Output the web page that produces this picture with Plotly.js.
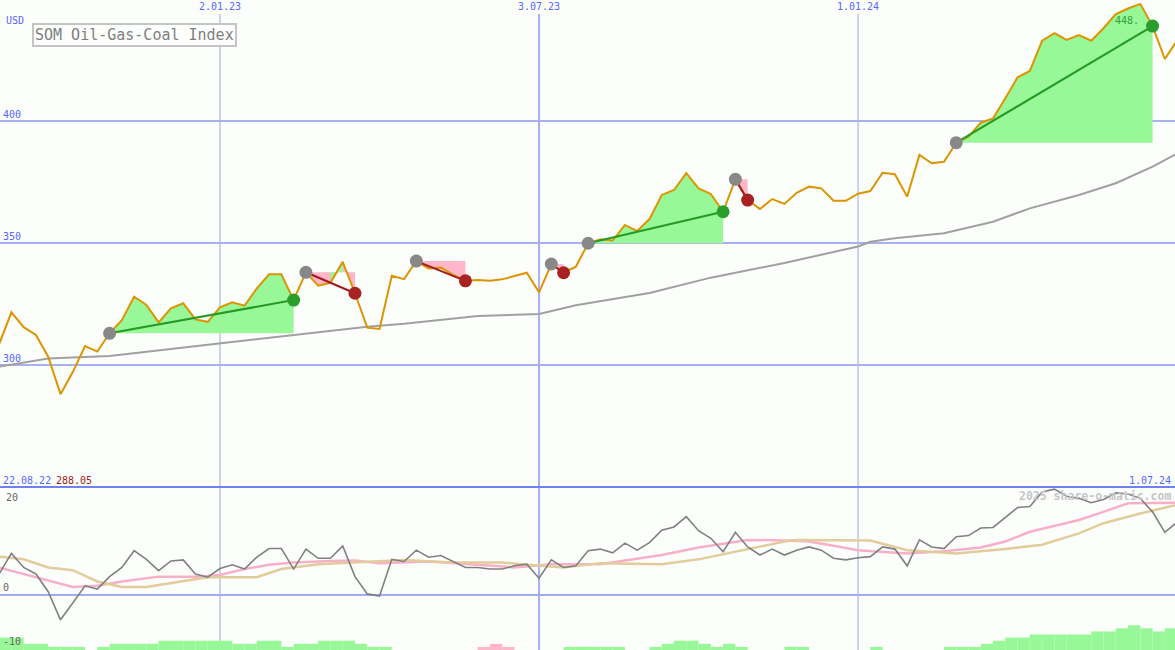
<!DOCTYPE html>
<html><head><meta charset="utf-8">
<script src="https://cdn.plot.ly/plotly-3.0.1.min.js"></script>
<style>html,body{margin:0;padding:0;background:#fcfefc;}#chart{width:1175px;height:650px;}</style>
</head><body><div id="chart"></div><script>
// ---- data (weekly closes from 29.08.22) ----
const firstWeek = [2022, 7, 29];
const price = [308.6,321.6,315.5,312.3,303.4,288.05,297.1,307.8,305.5,313.0,
 318.4,328.0,324.6,317.5,323.2,325.3,318.7,317.7,323.6,325.7,
 324.3,331.4,337.2,337.2,326.6,338.0,332.5,333.7,342.3,329.4,
 315.3,314.8,336.6,335.2,342.6,339.6,339.9,336.9,334.5,334.8,
 334.5,335.1,336.5,337.8,329.8,341.4,337.8,340.3,349.9,351.5,
 351.0,357.4,354.9,359.8,369.7,371.7,378.6,372.4,370.1,362.8,
 376.1,367.6,363.9,368.0,366.0,370.6,373.1,372.4,367.3,367.3,
 370.2,371.3,378.8,378.2,369.0,386.1,382.7,383.3,391.1,393.6,
 399.3,401.1,409.3,417.9,420.5,432.9,436.0,433.2,435.2,432.9,
 438.0,443.8,446.1,448.0,438.9,425.4,433.0];
const maWeeks = [0,4,9,18,24,30,33,39,44,47,53,58,64,70,71,73,77,81,84,88,91,94,96];
const maVals  = [299.3,302.7,303.7,308.9,312.3,315.7,316.9,320.1,320.9,324.5,329.5,335.8,341.8,348.6,350.5,351.9,354.0,358.7,364.2,369.7,374.5,381.3,386.7];
const upTrends = [[9,24],[48,59],[78,94]];
const downTrends = [[25,29],[34,38],[45,46],[60,61]];
const reversalPatches = [[25,27,28]]; // [trend start week, from, to]
const osc = [3.9,7.7,5.1,3.9,0.6,-4.6,-1.5,1.7,1.1,3.4,
 5.1,8.2,6.6,4.5,6.3,6.5,3.9,3.3,4.9,5.6,
 4.8,7.0,8.6,8.6,4.8,8.5,6.8,6.8,9.1,3.4,
 0.2,-0.2,6.6,6.2,8.3,7.0,7.3,6.2,5.1,5.1,
 4.8,4.8,5.4,5.7,3.1,6.5,5.1,5.4,8.2,8.5,
 7.8,9.6,8.3,9.7,12.0,12.6,14.5,11.9,10.5,8.0,
 11.6,8.9,7.4,8.5,7.4,8.3,8.9,8.3,6.8,6.5,
 6.9,7.1,8.9,8.5,5.4,10.2,8.9,8.6,10.8,11.0,
 12.4,12.5,14.3,16.2,16.4,19.1,19.6,18.3,17.9,17.1,
 17.7,18.9,18.7,17.9,15.4,11.6,13.5];
const pinkWeeks = [0,3,5,6,8,10,13,16,18,20,22,24,27,29,31,35,39,42,45,49,51,54,57,60,61,64,66,68,70,74,77,80,82,84,88,90,92,96];
const pinkVals  = [5.1,3.3,2.0,1.5,1.7,2.5,3.4,3.4,3.7,4.8,5.6,6.0,6.3,6.4,5.9,6.2,5.6,5.1,5.7,5.7,6.4,7.4,8.8,9.9,10.2,10.1,9.9,9.1,8.3,7.7,8.1,8.8,9.9,11.7,13.9,15.4,17.0,17.1];
const tanWeeks = [0,2,4,6,8,10,12,15,17,21,23,26,29,33,37,41,43,46,49,54,57,60,61,64,65,71,74,78,82,85,88,90,93,96];
const tanVals  = [7.1,6.6,5.1,4.6,2.5,1.5,1.5,2.5,3.3,3.3,4.8,5.7,6.0,6.5,6.0,6.0,5.6,5.1,5.9,5.7,6.6,8.0,8.6,9.9,10.2,10.1,8.3,7.7,8.5,9.3,11.4,13.3,15.1,16.7];
const greenBars = [4,4,2,2,1,1,1,0,1,2,2,2,2,3,3,3,3,3,3,2,2,3,3,1,2,2,3,3,3,2,1,1,
 0,0,0,0,0,0,0,0,0,0,0,0,0,0,1,1,1,1,1,0,0,1,2,3,3,2,1,2,1,0,0,0,1,1,
 0,0,0,0,0,1,0,0,0,0,0,1,1,1,2,3,4,4,5,5,5,5,5,6,6,7,8,7,6,7,0];
const pinkBars = {39:1, 40:2, 41:1};
const tickDates = ['2023-01-02','2023-07-03','2024-01-01'];
const tickLabels = ['2.01.23','3.07.23','1.01.24'];
const title = 'SOM Oil-Gas-Coal Index';

// ---- helpers ----
function wk(i){const d=new Date(Date.UTC(firstWeek[0],firstWeek[1],firstWeek[2]));d.setUTCDate(d.getUTCDate()+7*i);return d.toISOString().slice(0,10);}
const dates = price.map((_,i)=>wk(i));
const mono = 'DejaVu Sans Mono, monospace';
const BLUE = '#5566ff';
const GREEN_FILL = '#98f898', PINK_FILL = '#ffb6c8';
const traces = [];

traces.push({x:maWeeks.map(wk), y:maVals, mode:'lines', line:{color:'#a0a0a0', width:2}, xaxis:'x', yaxis:'y', hoverinfo:'skip'});

function fillSeg(base, a, b, color){
  const xs = dates.slice(a,b+1);
  traces.push({x:xs, y:xs.map(()=>price[base]), mode:'lines', line:{width:0}, xaxis:'x', yaxis:'y', hoverinfo:'skip'});
  traces.push({x:xs, y:price.slice(a,b+1), mode:'lines', line:{width:0}, fill:'tonexty', fillcolor:color, xaxis:'x', yaxis:'y', hoverinfo:'skip'});
}
upTrends.forEach(([s,e])=>fillSeg(s,s,e,GREEN_FILL));
downTrends.forEach(([s,e])=>fillSeg(s,s,e,PINK_FILL));
reversalPatches.forEach(([b,s,e])=>fillSeg(b,s,e,GREEN_FILL));

traces.push({x:dates, y:price, mode:'lines', line:{color:'#dc9400', width:2}, xaxis:'x', yaxis:'y'});

function trend(list, col, endCol){
  list.forEach(([s,e])=>{
    traces.push({x:[dates[s],dates[e]], y:[price[s],price[e]], mode:'lines', line:{color:col, width:2}, xaxis:'x', yaxis:'y', hoverinfo:'skip'});
  });
  traces.push({x:list.map(t=>dates[t[0]]), y:list.map(t=>price[t[0]]), mode:'markers', marker:{color:'#888888', size:13}, xaxis:'x', yaxis:'y'});
  traces.push({x:list.map(t=>dates[t[1]]), y:list.map(t=>price[t[1]]), mode:'markers', marker:{color:endCol, size:13}, xaxis:'x', yaxis:'y'});
}
trend(upTrends, '#249a24', '#2a9d2a');
trend(downTrends, '#a01a1a', '#a82222');

// bottom panel
const WEEK = 7*86400000;
traces.push({type:'bar', x:dates.slice(0,greenBars.length), y:greenBars, offset:0, width:WEEK, marker:{color:GREEN_FILL, line:{width:0}}, xaxis:'x2', yaxis:'y3', hoverinfo:'skip'});
const pk = Object.keys(pinkBars).map(Number);
traces.push({type:'bar', x:pk.map(i=>dates[i]), y:pk.map(i=>pinkBars[i]), offset:0, width:WEEK, marker:{color:PINK_FILL, line:{width:0}}, xaxis:'x2', yaxis:'y3', hoverinfo:'skip'});
traces.push({x:pinkWeeks.map(wk), y:pinkVals, mode:'lines', line:{color:'#f8b0c8', width:2.5}, xaxis:'x2', yaxis:'y2'});
traces.push({x:tanWeeks.map(wk), y:tanVals, mode:'lines', line:{color:'#e2cc9c', width:2.5}, xaxis:'x2', yaxis:'y2'});
traces.push({x:dates, y:osc, mode:'lines', line:{color:'#808080', width:1.6}, xaxis:'x2', yaxis:'y2'});

const split = 1-487/650;
const xr = ['2022-08-29 11:45','2024-06-29 19:00'];
const layout = {
  width:1175, height:650, margin:{l:0,r:0,t:0,b:0}, showlegend:false,
  paper_bgcolor:'#fcfefc', plot_bgcolor:'rgba(0,0,0,0)', barmode:'overlay', hovermode:false,
  xaxis:{type:'date', range:xr, anchor:'y', side:'top', tickvals:tickDates, ticktext:tickLabels,
    ticklabelposition:'inside', ticks:'', tickfont:{family:mono, size:10, color:BLUE}, showgrid:false, zeroline:false, showline:false},
  xaxis2:{type:'date', range:xr, matches:'x', anchor:'y2', showticklabels:false, showgrid:false, zeroline:false, showline:false, ticks:''},
  yaxis:{domain:[split,1], range:[250,449.59], tickvals:[300,350,400], ticklabelposition:'inside top', ticks:'',
    tickfont:{family:mono, size:10, color:BLUE}, showgrid:true, gridcolor:'#a8b0f0', gridwidth:2, zeroline:false, showline:false},
  yaxis2:{domain:[0,split], range:[-10.19,20], tickvals:[0,-10], ticktext:['0','-10'], ticklabelposition:'inside top', ticks:'',
    tickfont:{family:mono, size:10, color:'#666666'}, showgrid:false, zeroline:false, showline:false},
  yaxis3:{overlaying:'y2', range:[0,52.6], visible:false},
  shapes:[
    ...tickDates.map((d,k)=>({type:'line', layer:'below', xref:'x', yref:'paper', x0:d, x1:d, y0:0, y1:1-14/650,
      line:{color:k===1?'#a4b0f4':'#b6badf', width:k===1?2:1.3}})),
    {type:'line', layer:'below', xref:'paper', yref:'y2', x0:0, x1:1, y0:0, y1:0, line:{color:'#a0acf0', width:2}},
    {type:'line', layer:'above', xref:'paper', yref:'paper', x0:0, x1:1, y0:split, y1:split, line:{color:'#7080f0', width:2}}
  ],
  annotations:[
    {text:title, xref:'paper', yref:'paper', x:32/1175, y:1-23/650, xanchor:'left', yanchor:'top', showarrow:false,
      font:{family:mono, size:15, color:'#808080'}, bordercolor:'#c4c4c4', borderwidth:2, borderpad:1, bgcolor:'#fcfefc'},
    {text:'USD', xref:'paper', yref:'paper', x:4/1175, y:1-21/650, xanchor:'left', yanchor:'middle', showarrow:false, font:{family:mono, size:10, color:BLUE}},
    {text:'20', xref:'paper', yref:'paper', x:4/1175, y:1-497/650, xanchor:'left', yanchor:'middle', showarrow:false, font:{family:mono, size:10, color:'#666666'}},
    {text:'22.08.22', xref:'paper', yref:'paper', x:1/1175, y:1-480/650, xanchor:'left', yanchor:'middle', showarrow:false, font:{family:mono, size:10, color:BLUE}},
    {text:Math.min(...price).toFixed(2), xref:'paper', yref:'paper', x:54/1175, y:1-480/650, xanchor:'left', yanchor:'middle', showarrow:false, font:{family:mono, size:10, color:'#a01818'}},
    {text:'1.07.24', xref:'paper', yref:'paper', x:1173/1175, y:1-480/650, xanchor:'right', yanchor:'middle', showarrow:false, font:{family:mono, size:10, color:BLUE}},
    {text:'<b>2025 share-o-matic.com</b>', xref:'paper', yref:'paper', x:1173/1175, y:1-496/650, xanchor:'right', yanchor:'middle', showarrow:false, font:{family:mono, size:11.5, color:'#c6c6c6'}},
    {text:Math.floor(Math.max(...price))+'.', xref:'x', yref:'y', x:dates[94], y:price[94], xanchor:'right', yanchor:'bottom', xshift:-12, yshift:-2, showarrow:false, font:{family:mono, size:10, color:'#30a030'}}
  ]
};
Plotly.newPlot('chart', traces, layout, {staticPlot:true, displayModeBar:false});
</script></body></html>
